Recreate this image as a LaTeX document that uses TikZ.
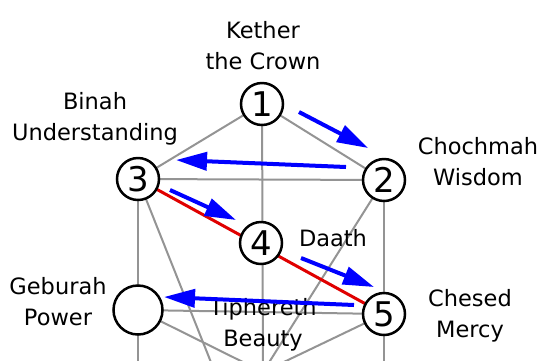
\documentclass[tikz,border=0pt]{standalone}
\usepackage{fontspec}
\setmainfont{DejaVu Sans}
\usetikzlibrary{arrows.meta}
\begin{document}
\begin{tikzpicture}[x=1pt,y=-1pt,
  path/.style={draw=black!42, line width=2pt},
  redline/.style={draw=red!88!black, line width=3pt},
  sephira/.style={circle, draw=black, line width=2.5pt, fill=white, minimum size=42pt, inner sep=0pt, font=\fontsize{34}{34}\selectfont},
  bigsephira/.style={sephira, minimum size=49pt},
  lbl/.style={align=center, font=\fontsize{22.5}{31}\selectfont, text=black},
  flow/.style={draw=blue, line width=4pt, -{Triangle[length=31pt,width=18pt]}}]
\useasboundingbox (0,0) rectangle (548,360);
\fill[white] (0,0) rectangle (548,360);
\clip (0,0) rectangle (548,360);
% bottom (off-picture) points
\coordinate (tiph) at (263,372);
\coordinate (b3) at (226,400);
\coordinate (b6) at (138,400);
\coordinate (b5) at (384,400);
% sephiroth positions
\coordinate (p1) at (262,104);
\coordinate (p2) at (384,180);
\coordinate (p3) at (138,179);
\coordinate (p4) at (261,243);
\coordinate (p5) at (384,314);
\coordinate (p6) at (138,310);
% gray paths
\draw[path] (p1) -- (p3);
\draw[path] (p1) -- (p2);
\draw[path] (p3) -- (p2);
\draw[path] (p1) -- (tiph);
\draw[path] (p3) -- (p6);
\draw[path] (p6) -- (b6);
\draw[path] (p2) -- (p5);
\draw[path] (p5) -- (b5);
\draw[path] (p6) -- (p5);
\draw[path] (p3) -- (b3);
\draw[path] (p2) -- (tiph);
\draw[path] (p6) -- (tiph);
\draw[path] (p5) -- (tiph);
% red line
\draw[redline] (p3) -- (p5);
% circles
\node[sephira] (n1) at (p1) {1};
\node[sephira] (n2) at (p2) {2};
\node[sephira] (n3) at (p3) {3};
\node[sephira] (n4) at (p4) {4};
\node[sephira] (n5) at (p5) {5};
\node[bigsephira] (n6) at (p6) {};
% labels
\node[lbl] (lk) at (263,46) {Kether\\the Crown};
\node[lbl] (lb) at (95,119) {Binah\\Understanding};
\node[lbl] (lc) at (478,162) {Chochmah\\Wisdom};
\node[lbl] (ld) at (333,238) {Daath};
\node[lbl] (lg) at (58,302) {Geburah\\Power};
\node[lbl] (lm) at (470,316) {Chesed\\Mercy};
\node[lbl] (lt) at (263,325) {Tiphereth\\Beauty};
% blue arrows
\coordinate (a1s) at (299,112);
\coordinate (a1e) at (368,148);
\coordinate (a2s) at (346,167);
\coordinate (a2e) at (176,160);
\coordinate (a3s) at (170,190);
\coordinate (a3e) at (236,220);
\coordinate (a4s) at (301,258);
\coordinate (a4e) at (374,287);
\coordinate (a5s) at (354,305);
\coordinate (a5e) at (164,297);
\draw[flow] (a1s) -- (a1e);
\draw[flow] (a2s) -- (a2e);
\draw[flow] (a3s) -- (a3e);
\draw[flow] (a4s) -- (a4e);
\draw[flow] (a5s) -- (a5e);
\end{tikzpicture}
\end{document}
